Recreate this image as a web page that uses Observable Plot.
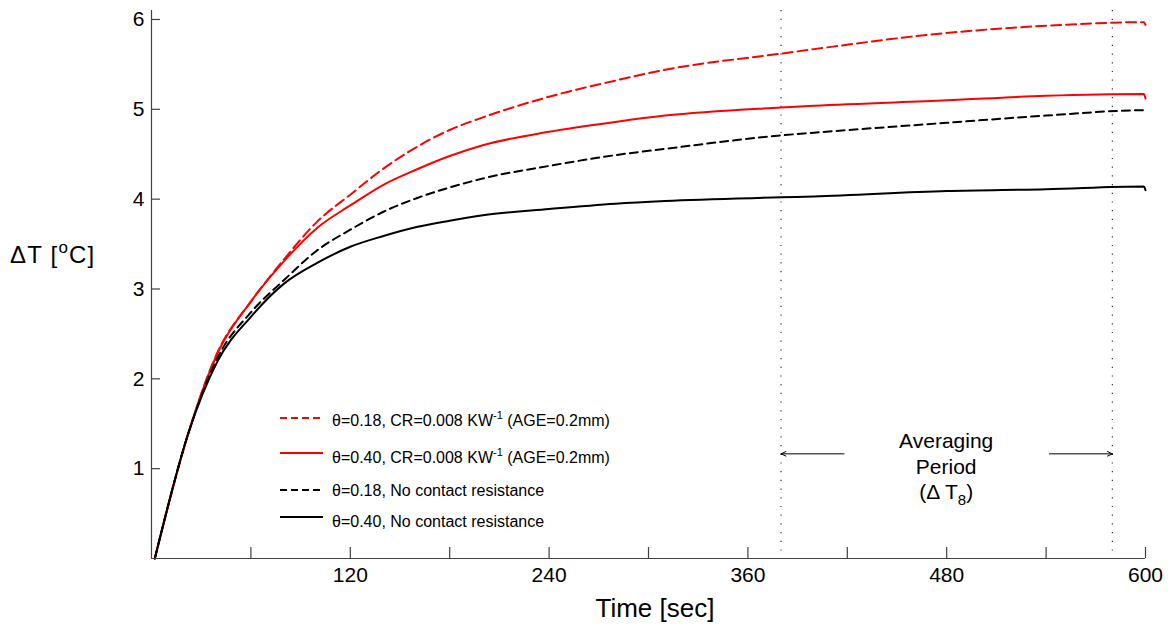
<!DOCTYPE html>
<html>
<head>
<meta charset="utf-8">
<script src="https://cdn.jsdelivr.net/npm/d3@7"></script>
<script src="https://cdn.jsdelivr.net/npm/@observablehq/plot@0.6"></script>
<style>
  html, body { margin: 0; padding: 0; background: #fff; }
  #chart { width: 1170px; height: 627px; }
</style>
</head>
<body>
<div id="chart"></div>
<script>
// ---- data ----
const time = [2, 22, 40, 60, 80, 100, 120, 140, 160, 180, 200, 240, 280, 310, 380, 400, 480, 540, 599, 600];
const cr018 = [0, 1.38, 2.30, 2.86, 3.33, 3.75, 4.05, 4.34, 4.58, 4.77, 4.91, 5.14, 5.32, 5.44, 5.62, 5.67, 5.85, 5.93, 5.97, 5.94];
const cr040 = [0, 1.38, 2.29, 2.86, 3.31, 3.68, 3.93, 4.16, 4.33, 4.48, 4.60, 4.75, 4.86, 4.93, 5.02, 5.04, 5.10, 5.15, 5.17, 5.12];
const nocr018 = [0, 1.38, 2.24, 2.74, 3.10, 3.43, 3.66, 3.86, 4.01, 4.13, 4.23, 4.37, 4.49, 4.56, 4.71, 4.74, 4.85, 4.93, 4.99, 4.96];
const nocr040 = [0, 1.38, 2.20, 2.69, 3.06, 3.29, 3.47, 3.59, 3.69, 3.76, 3.82, 3.89, 3.95, 3.98, 4.02, 4.03, 4.09, 4.11, 4.14, 4.10];

const seriesNames = ["θ=0.18, CR=0.008 KW", "θ=0.40, CR=0.008 KW", "θ=0.18, No contact resistance", "θ=0.40, No contact resistance"];
const seriesColors = ["#ff0000", "#ff0000", "#000000", "#000000"];
const seriesDash = ["10,5", null, "8,5", null];
const seriesValues = [cr018, cr040, nocr018, nocr040];

const xTicks = [60, 120, 180, 240, 300, 360, 420, 480, 540, 600];
const xTickLabels = [120, 240, 360, 480, 600];
const yTicks = [1, 2, 3, 4, 5, 6];
const averagingBounds = [380, 580];
const arrowRows = [{x1: 418, x2: 380, y: 1.165}, {x1: 542, x2: 580, y: 1.165}];
const annotation = {x: 480, y: 1.01};

// ---- table ----
const rows = [];
seriesValues.forEach((vals, s) => vals.forEach((v, i) => rows.push({series: s, t: time[i], v})));

const W = 1170, H = 627;
const mL = 151, mR = 25, mT = 10, mB = 69;
const plotW = W - mL - mR, plotH = H - mT - mB;
const FONT = "Liberation Sans, Arial, Helvetica, sans-serif";
const axisColor = "#404040";

const chart = Plot.plot({
  width: W, height: H,
  marginLeft: mL, marginRight: mR, marginTop: mT, marginBottom: mB,
  style: {fontFamily: FONT, background: "white", overflow: "visible"},
  x: {domain: [0, 600]},
  y: {domain: [0, 6.1]},
  marks: [
    Plot.ruleX(averagingBounds, {x: d => d, stroke: "#333", strokeDasharray: "1.2,7.5", strokeWidth: 1.2}),
    ...seriesValues.map((_, s) => Plot.line(rows.filter(r => r.series === s), {
      x: "t", y: "v", stroke: seriesColors[s], strokeWidth: 2, curve: "monotone-x",
      strokeDasharray: seriesDash[s] || undefined
    })),
    Plot.arrow(arrowRows, {x1: "x1", x2: "x2", y1: "y", y2: "y", stroke: "black", strokeWidth: 1, headLength: 8, headAngle: 50}),
    // axes
    Plot.ruleY([0], {stroke: axisColor, strokeWidth: 1.2}),
    Plot.ruleX([0], {stroke: axisColor, strokeWidth: 1.2}),
    Plot.tickX(xTicks, {x: d => d, insetTop: plotH - 11, stroke: axisColor, strokeWidth: 1.2}),
    Plot.tickY(yTicks, {y: d => d, insetRight: plotW - 9, stroke: axisColor, strokeWidth: 1.2}),
    Plot.axisX({ticks: xTickLabels, tickSize: 0, tickPadding: 9, fontSize: 21, label: null, fill: "black", tickFormat: d => String(d)}),
    Plot.axisY({ticks: yTicks, tickSize: 0, tickPadding: 7, fontSize: 21, label: null, fill: "black", tickFormat: d => String(d)})
  ]
});
document.getElementById("chart").appendChild(chart);

const svg = d3.select(chart);
const sx = chart.scale("x"), sy = chart.scale("y");

// x label
svg.append("text").attr("x", 655).attr("y", 617).attr("text-anchor", "middle")
  .attr("font-family", FONT).attr("font-size", 26).attr("fill", "black").text("Time [sec]");

// y label
const yl = svg.append("text").attr("x", 10).attr("y", 263).attr("text-anchor", "start").attr("font-family", FONT)
  .attr("font-size", 24).attr("letter-spacing", 1.2).attr("fill", "black");
yl.append("tspan").text("ΔT [");
yl.append("tspan").attr("font-size", 17).attr("dy", -10).text("o");
yl.append("tspan").attr("dy", 10).text("C]");

// annotation
const ax = sx.apply(annotation.x), ay = sy.apply(annotation.y);
const ann = svg.append("g").attr("font-family", FONT).attr("font-size", 21).attr("fill", "black").attr("text-anchor", "middle");
ann.append("text").attr("x", ax).attr("y", ay - 19).text("Averaging");
ann.append("text").attr("x", ax).attr("y", ay + 7).text("Period");
const l3 = ann.append("text").attr("x", ax).attr("y", ay + 32);
l3.append("tspan").text("(Δ T");
l3.append("tspan").attr("font-size", 15).attr("dy", 6).text("8");
l3.append("tspan").attr("dy", -6).text(")");

// legend
const legLineY = [418, 453, 490, 517];
const legTextY = [426, 463, 496, 527];
const leg = svg.append("g").attr("font-family", FONT).attr("font-size", 16).attr("fill", "black").attr("text-anchor", "start");
seriesNames.forEach((name, i) => {
  leg.append("line").attr("x1", 280).attr("x2", 323).attr("y1", legLineY[i]).attr("y2", legLineY[i])
    .attr("stroke", seriesColors[i]).attr("stroke-width", 2)
    .attr("stroke-dasharray", seriesDash[i] ? "7,4" : null);
  const t = leg.append("text").attr("x", 332).attr("y", legTextY[i]);
  t.append("tspan").text(name);
  if (i < 2) {
    t.append("tspan").attr("font-size", 11).attr("dy", -7).text("-1");
    t.append("tspan").attr("dy", 7).text(" (AGE=0.2mm)");
  }
});
</script>
</body>
</html>
